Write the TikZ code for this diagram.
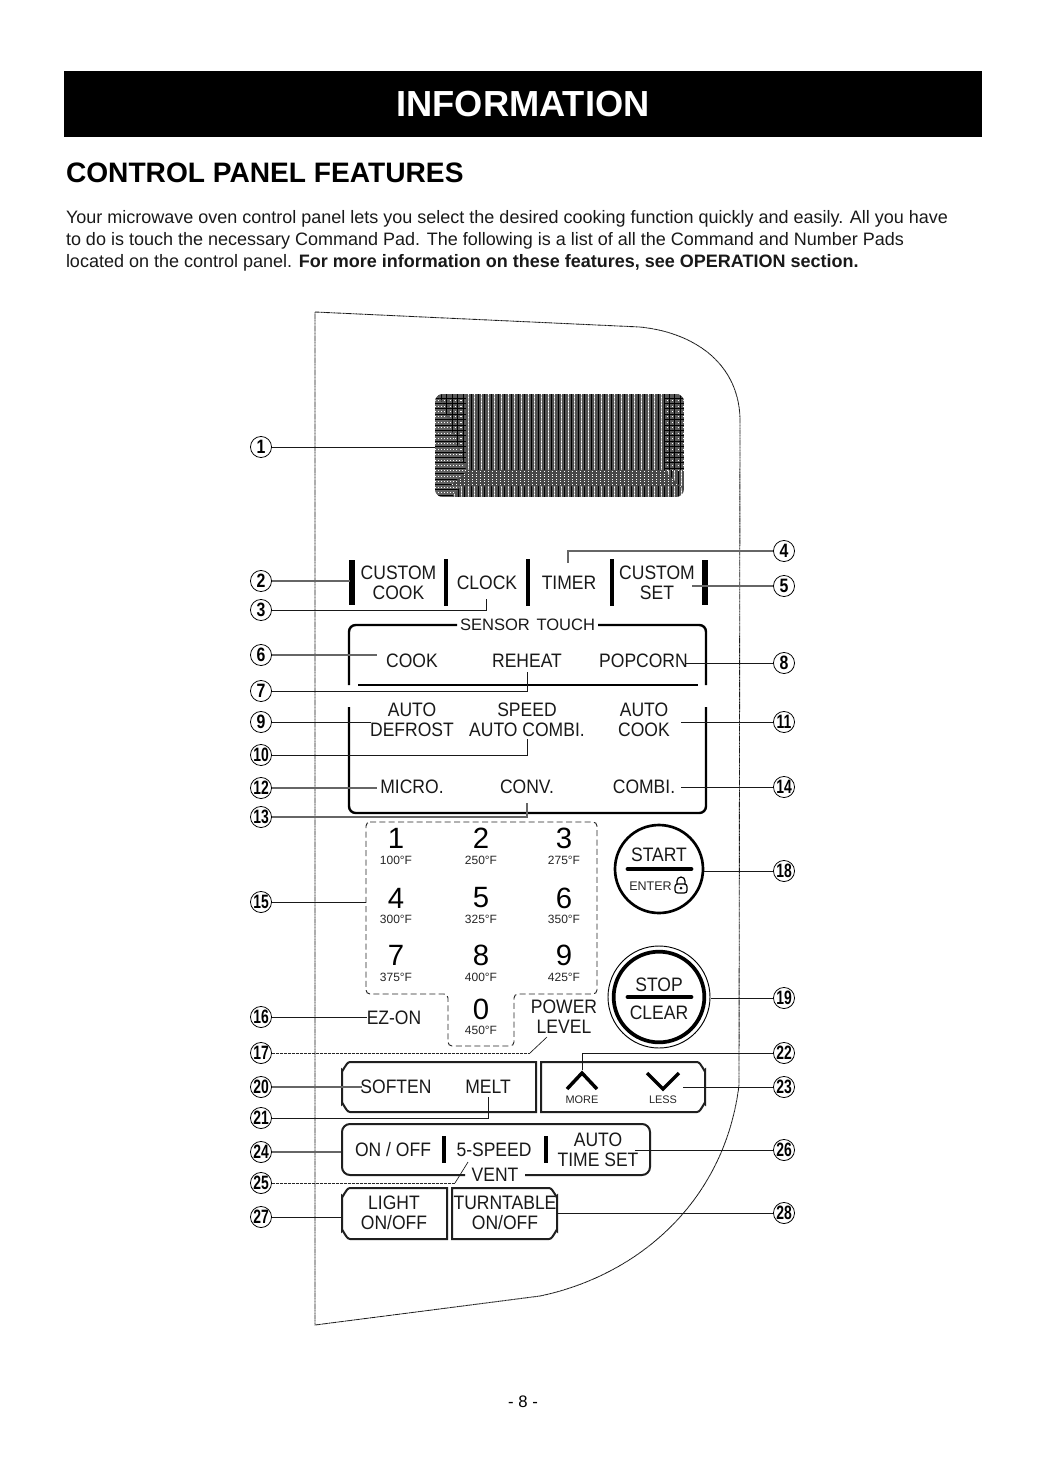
\documentclass[tikz,border=0pt]{standalone}
\usepackage{fontspec}
\usepackage{graphicx}
\setmainfont{Liberation Sans}
\newfontfamily\panelfont[FakeStretch=0.9]{Liberation Sans}
\tikzset{
  x=0.75pt,y=-0.75pt,
  every node/.style={inner sep=0pt,outer sep=0pt},
  lbl/.style={align=center,font=\panelfont\fontsize{14.6}{15}\selectfont,text=black!90},
  num/.style={circle,draw=black,line width=0.6pt,minimum size=15.8pt,fill=white,font=\fontsize{14.5}{14.5}\selectfont\bfseries},
  lead/.style={draw=black!90,line width=0.7pt},
  leadg/.style={draw=black!60,line width=0.9pt},
  leaddot/.style={draw=black!85,line width=0.55pt,dash pattern=on 0.6pt off 0.4pt},
  outline/.style={draw=black!90,line width=0.65pt,dash pattern=on 0.8pt off 0.3pt},
  panel/.style={draw=black,line width=1.8pt},
  boxline/.style={draw=black!88,line width=1.5pt},
  thinbar/.style={draw=black,line width=2.4pt},
  thickbar/.style={draw=black,line width=5pt},
  keyline/.style={draw=black!85,line width=0.7pt,dash pattern=on 4.5pt off 2.5pt},
  digit/.style={font=\fontsize{22}{22}\selectfont},
  temp/.style={font=\fontsize{9}{9}\selectfont,text=black!85},
  bodytext/.style={anchor=west,font=\fontsize{13.5}{14}\selectfont,text=black!90},
  dlight/.style={draw=white,line width=0.7pt,dash pattern=on 0.75pt off 1.75pt},
  dblack/.style={draw=black,line width=0.75pt},
}
\newcommand{\nm}[4]{\node[num] (n#1) at (#2,#3) {\scalebox{#4}[1]{#1}};}
\begin{document}
\begin{tikzpicture}
\useasboundingbox (0,0) rectangle (1036,1464);
\fill[white] (0,0) rectangle (1036,1464);
% header
\node[fill=black,minimum width=688.5pt,minimum height=49.5pt,anchor=north west] (hdr) at (64,71) {};
\node[text=white,font=\fontsize{27.2}{27.4}\selectfont\bfseries] (hdrt) at (523,104.5) {INFORMATION};
\node[anchor=west,font=\fontsize{21.1}{21}\selectfont\bfseries] (ttl) at (66,172.5) {CONTROL PANEL FEATURES};
\node[bodytext] (p1) at (66,218.5) {Your microwave oven control panel lets you select the desired cooking function quickly and easily. All you have};
\node[bodytext] (p2) at (66,240.5) {to do is touch the necessary Command Pad. The following is a list of all the Command and Number Pads};
\node[bodytext] (p3) at (66,262.5) {located on the control panel. \textbf{For more information on these features, see OPERATION section.}};
% outline
\draw[outline] (315,312) -- (640,327) .. controls (690,332) and (738,360) .. (740,418) -- (739,1085)
  .. controls (725,1200) and (640,1275) .. (540,1296) -- (315,1325) -- cycle;
% display
\begin{scope}
\clip[rounded corners=6pt] (435,394) rectangle (684,497);
\fill[black!68] (435,394) rectangle (684,497);
\foreach \i in {0,...,37} {
  \draw[dblack] ({438+6.67*\i},394) -- ({438+6.67*\i},497);
  \draw[black!25,line width=0.7pt] ({441.3+6.67*\i},394) -- ({441.3+6.67*\i},497);
  \draw[dlight] ({441.3+6.67*\i},394) -- ({441.3+6.67*\i},497);
}
% top-left grid
\begin{scope}
\clip (436,394) -- (466,394) -- (466,474) -- cycle;
\fill[black!65] (436,394) rectangle (466,474);
\foreach \i in {0,...,6} { \draw[dblack] ({436+5.4*\i},394) -- ({436+5.4*\i},474); }
\foreach \i in {0,...,15} {
  \draw[dblack] (436,{398+5.4*\i}) -- (466,{398+5.4*\i});
  \draw[white,line width=0.7pt,dash pattern=on 1pt off 3.05pt] (438.7,{400.7+5.4*\i}) -- (466,{400.7+5.4*\i});
}
\end{scope}
% left wedge
\begin{scope}
\clip (435,394) -- (441,400) -- (468,476) -- (452,497) -- (435,497) -- cycle;
\fill[black!62] (435,394) rectangle (470,497);
\foreach \i in {0,...,19} {
  \draw[dblack] (435,{398+5.4*\i}) -- (470,{398+5.4*\i});
  \draw[white,line width=0.7pt,dash pattern=on 0.75pt off 1.5pt] (435,{400.7+5.4*\i}) -- (470,{400.7+5.4*\i});
}
\end{scope}
% right grid
\begin{scope}
\clip (664,394) rectangle (684,470);
\fill[black!65] (664,394) rectangle (684,470);
\foreach \i in {0,...,4} { \draw[dblack] ({664+5.4*\i},394) -- ({664+5.4*\i},470); }
\foreach \i in {0,...,14} {
  \draw[dblack] (664,{398+5.4*\i}) -- (684,{398+5.4*\i});
  \draw[white,line width=0.7pt,dash pattern=on 1pt off 3.05pt] (666.7,{400.7+5.4*\i}) -- (684,{400.7+5.4*\i});
}
\end{scope}
% bottom band
\begin{scope}
\clip (468,470) -- (664,470) -- (684,490) -- (684,486) -- (450,486) -- cycle;
\fill[black!72] (440,470) rectangle (684,490);
\foreach \i in {0,...,6} {
  \draw[white,line width=0.6pt,dash pattern=on 0.75pt off 2.25pt] (440,{471.5+2.5*\i}) -- (684,{471.5+2.5*\i});
}
\end{scope}
\end{scope}
\coordinate (disp) at (435,447);
% numbers left
\nm{1}{261}{447}{0.82}
\nm{2}{261}{581}{0.82}
\nm{3}{261}{610}{0.82}
\nm{6}{261}{655}{0.82}
\nm{7}{261}{691}{0.82}
\nm{9}{261}{722}{0.82}
\nm{10}{261}{755}{0.72}
\nm{12}{261}{788}{0.72}
\nm{13}{261}{817}{0.72}
\nm{15}{261}{902}{0.72}
\nm{16}{261}{1017}{0.72}
\nm{17}{261}{1053}{0.72}
\nm{20}{261}{1087}{0.72}
\nm{21}{261}{1118}{0.72}
\nm{24}{261}{1152}{0.72}
\nm{25}{261}{1183}{0.72}
\nm{27}{261}{1217}{0.72}
% numbers right
\nm{4}{784}{551}{0.82}
\nm{5}{784}{586}{0.82}
\nm{8}{784}{663}{0.82}
\nm{11}{784}{722}{0.72}
\nm{14}{784}{787}{0.72}
\nm{18}{784}{871}{0.72}
\nm{19}{784}{998}{0.72}
\nm{22}{784}{1053}{0.72}
\nm{23}{784}{1087}{0.72}
\nm{26}{784}{1150}{0.72}
\nm{28}{784}{1213}{0.72}
% top row
\draw[thickbar] (352,560) -- (352,605);
\draw[thinbar] (446,559) -- (446,606);
\draw[thinbar] (528,559) -- (528,606);
\draw[thinbar] (612,559) -- (612,606);
\draw[thickbar] (705,560) -- (705,605);
\node[lbl] (t1) at (398.5,582.5) {CUSTOM\\[0pt]COOK};
\node[lbl] (t2) at (487,583) {CLOCK};
\node[lbl] (t3) at (569,583) {TIMER};
\node[lbl] (t4) at (657,582.5) {CUSTOM\\[0pt]SET};
% sensor box
\draw[panel,rounded corners=5pt] (349,685) -- (349,625) -- (457,625);
\draw[panel,rounded corners=5pt] (598,625) -- (706,625) -- (706,685);
\draw[panel] (358,685) -- (698,685);
\node[font=\fontsize{12.4}{13}\selectfont,text=black!90] (t5) at (527.5,625) {SENSOR\hspace{5pt}TOUCH};
\node[lbl] (t6) at (412,661) {COOK};
\node[lbl] (t7) at (527,661) {REHEAT};
\node[lbl] (t8) at (643.5,661) {POPCORN};
% lower box
\draw[panel,rounded corners=5pt] (349,707) -- (349,813) -- (706,813) -- (706,707);
\node[lbl] (t9) at (412,720) {AUTO\\[0pt]DEFROST};
\node[lbl] (t10) at (527,720) {SPEED\\[0pt]AUTO COMBI.};
\node[lbl] (t11) at (644,720) {AUTO\\[0pt]COOK};
\node[lbl] (t12) at (412,787) {MICRO.};
\node[lbl] (t13) at (527,787) {CONV.};
\node[lbl] (t14) at (644,787) {COMBI.};
% keypad
\draw[keyline,rounded corners=3pt] (366,822) -- (597,822) -- (597,994) -- (514,994) -- (514,1046) -- (448,1046) -- (448,994) -- (366,994) -- cycle;
\node[digit] (d1) at (396,838) {1};
\node[digit] (d2) at (481,838) {2};
\node[digit] (d3) at (564,838) {3};
\node[digit] (d4) at (396,898) {4};
\node[digit] (d5) at (481,898) {5};
\node[digit] (d6) at (564,898) {6};
\node[digit] (d7) at (396,955) {7};
\node[digit] (d8) at (481,955) {8};
\node[digit] (d9) at (564,955) {9};
\node[digit] (d0) at (481,1009) {0};
\node[temp] (f1) at (396,860) {100°F};
\node[temp] (f2) at (481,860) {250°F};
\node[temp] (f3) at (564,860) {275°F};
\node[temp] (f4) at (396,919) {300°F};
\node[temp] (f5) at (481,919) {325°F};
\node[temp] (f6) at (564,919) {350°F};
\node[temp] (f7) at (396,977) {375°F};
\node[temp] (f8) at (481,977) {400°F};
\node[temp] (f9) at (564,977) {425°F};
\node[temp] (f0) at (481,1030) {450°F};
\node[lbl] (ez) at (394,1018) {EZ-ON};
\node[lbl] (pw) at (564,1017) {POWER\\[0pt]LEVEL};
% start / stop
\node[circle,draw=black,line width=2pt,minimum size=66pt] (start) at (659,869) {};
\draw[black,line width=3.6pt,line cap=round] (628,869) -- (691,869);
\node[lbl] (st) at (659,855) {START};
\node[font=\fontsize{9.4}{10}\selectfont,text=black!85] (en) at (650.5,886.5) {ENTER};
\draw[black,line width=0.9pt,rounded corners=2pt] (675,884) rectangle (687,893);
\draw[black,line width=0.9pt] (677,884) -- (677,881) arc (180:360:4) -- (685,884);
\fill[black] (681,888) circle (1.5);
\node[circle,draw=black,line width=0.7pt,minimum size=76.5pt] (stop) at (659,997) {};
\node[circle,draw=black,line width=2.8pt,minimum size=68pt] (stopin) at (659,997) {};
\draw[black,line width=3.6pt,line cap=round] (628,997) -- (691,997);
\node[lbl] (sp) at (659,984.5) {STOP};
\node[lbl] (cl) at (659,1013) {CLEAR};
% soften/melt
\draw[boxline] (536,1062) -- (350,1062) to[out=180,in=-90] (342,1070) -- (342,1104) to[out=90,in=180] (350,1112) -- (536,1112) -- cycle;
\draw[boxline] (541,1062) -- (697,1062) to[out=0,in=-90] (705,1070) -- (705,1104) to[out=90,in=0] (697,1112) -- (541,1112) -- cycle;
\node[lbl] (t20) at (396,1087) {SOFTEN};
\node[lbl] (t21) at (488,1087) {MELT};
\node[font=\fontsize{8.2}{8}\selectfont,text=black!85] (more) at (582,1100) {MORE};
\node[font=\fontsize{8.2}{8}\selectfont,text=black!85] (less) at (663,1100) {LESS};
\draw[black,line width=2.6pt] (567,1089) -- (582,1073) -- (597,1089);
\draw[black,line width=2.6pt] (647,1073) -- (663,1089) -- (679,1073);
% on/off
\draw[boxline,rounded corners=6pt] (465,1175) -- (342,1175) -- (342,1124) -- (650,1124) -- (650,1175) -- (525,1175);
\draw[thinbar] (444,1136) -- (444,1163);
\draw[thinbar] (546,1136) -- (546,1163);
\node[lbl] (t24) at (393,1150) {ON / OFF};
\node[lbl] (t25) at (494,1150) {5-SPEED};
\node[lbl] (t26) at (598,1150) {AUTO\\[0pt]TIME SET};
\node[lbl,fill=white,inner xsep=4pt] (t25b) at (495,1175) {VENT};
% light/turntable
\draw[boxline] (447,1188) -- (350,1188) to[out=180,in=-90] (342,1196) -- (342,1231) to[out=90,in=180] (350,1239) -- (447,1239) -- cycle;
\draw[boxline] (452,1188) -- (549,1188) to[out=0,in=-90] (557,1196) -- (557,1231) to[out=90,in=0] (549,1239) -- (452,1239) -- cycle;
\node[lbl] (t27) at (394,1213) {LIGHT\\[0pt]ON/OFF};
\node[lbl] (t28) at (505,1213) {TURNTABLE\\[0pt]ON/OFF};
% page number
\node[font=\fontsize{12.5}{13}\selectfont] (pg) at (523,1402) {- 8 -};
% connector ends
\coordinate (e2) at (350,581);
\coordinate (e3) at (486,599);
\coordinate (e4) at (568,563);
\coordinate (e5) at (692,586);
\coordinate (e6) at (377,655);
\coordinate (e7) at (527,672);
\coordinate (e8) at (685,663);
\coordinate (e9) at (371,722);
\coordinate (e10) at (527,739);
\coordinate (e11) at (681,722);
\coordinate (e12) at (377,788);
\coordinate (e13) at (527,803);
\coordinate (e14) at (681,787);
\coordinate (e15) at (366,902);
\coordinate (e16) at (367,1017);
\coordinate (b17) at (530,1053);
\coordinate (e17) at (547,1037);
\coordinate (e18) at (704,871);
\coordinate (e19) at (711,998);
\coordinate (e22) at (582,1070);
\coordinate (e23) at (683,1087);
\coordinate (e20) at (362,1087);
\coordinate (e21) at (488,1097);
\coordinate (e24) at (341,1152);
\coordinate (b25) at (455,1183);
\coordinate (e25) at (468,1162);
\coordinate (e26) at (635,1150);
\coordinate (e27) at (341,1217);
\coordinate (e28) at (557,1213);
% connectors
\draw[lead] (n1) -- (disp);
\draw[leadg] (n2) -- (e2);
\draw[lead] (n3.east) -| (e3);
\draw[leadg] (n4.west) -| (e4);
\draw[leadg] (n5) -- (e5);
\draw[leadg] (n6) -- (e6);
\draw[lead] (n7.east) -| (e7);
\draw[lead] (n8) -- (e8);
\draw[lead] (n9) -- (e9);
\draw[lead] (n10.east) -| (e10);
\draw[lead] (n11) -- (e11);
\draw[leadg] (n12) -- (e12);
\draw[leadg] (n13.east) -| (e13);
\draw[lead] (n14) -- (e14);
\draw[lead] (n15) -- (e15);
\draw[lead] (n16) -- (e16);
\draw[leaddot] (n17.east) -- (b17);
\draw[lead,line width=0.5pt] (b17) -- (e17);
\draw[lead] (n18) -- (e18);
\draw[lead] (n19) -- (e19);
\draw[lead] (n22.west) -| (e22);
\draw[lead] (n23) -- (e23);
\draw[leadg] (n20) -- (e20);
\draw[lead] (n21.east) -| (e21);
\draw[leadg] (n24) -- (e24);
\draw[leaddot] (n25.east) -- (b25);
\draw[lead,line width=0.5pt] (b25) -- (e25);
\draw[lead] (n26) -- (e26);
\draw[lead] (n27) -- (e27);
\draw[lead] (n28) -- (e28);
\end{tikzpicture}
\end{document}
